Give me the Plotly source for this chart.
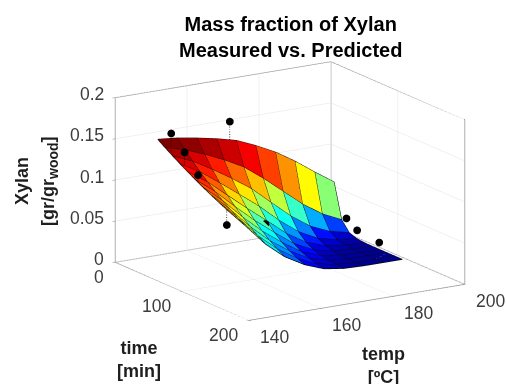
import plotly.graph_objects as go

temp = [150.0, 155.4, 160.9, 166.3, 171.8, 177.2, 182.7, 188.1, 193.6, 199.0]
time = [10.0, 21.3, 32.7, 44.0, 55.3, 66.7, 78.0, 89.3, 100.7, 112.0]
# xylan[i][j]: i = temp index, j = time index
xylan = [
    [.1457,.1392,.1331,.1272,.1216,.1162,.1110,.1061,.1014,.0969],
    [.1433,.1328,.1231,.1141,.1058,.0980,.0909,.0842,.0781,.0724],
    [.1392,.1233,.1091,.0966,.0856,.0758,.0671,.0594,.0526,.0466],
    [.1345,.1126,.0942,.0789,.0660,.0553,.0463,.0387,.0324,.0270],
    [.1284,.0999,.0777,.0605,.0470,.0366,.0285,.0222,.0172,.0134],
    [.1183,.0823,.0572,.0398,.0277,.0193,.0134,.0093,.0065,.0045],
    [.1063,.0626,.0368,.0217,.0128,.0075,.0044,.0026,.0015,.0009],
    [.0914,.0432,.0204,.0096,.0045,.0021,.0010,.0005,.0002,.0001],
    [.0741,.0273,.0100,.0037,.0014,.0005,.0002,.0001,.0000,.0000],
    [.0581,.0162,.0045,.0012,.0003,.0001,.0000,.0000,.0000,.0000],
]
meas_temp = [150, 150, 150, 170, 150, 200, 200, 200, 170.5]
meas_time = [30, 50, 70, 10, 113, 23, 39, 72, 60.6]
meas_xylan = [.1599, .144, .1233, .1527, .078, .0178, .009, .0058, .0458]
pred_xylan = [.137, .128, .116, .128, .0969, .014, .007, .002, .0458]

time_range = [0, 200]
temp_range = [140, 200]
xylan_range = [0, 0.2]
time_ticks = [0, 100, 200]
temp_ticks = [140, 160, 180, 200]
xylan_ticks = [0, 0.05, 0.1, 0.15, 0.2]
xylan_labels = ["0", "0.05", "0.1", "0.15", "0.2"]

jet = [[0, "rgb(0,0,143)"], [.125, "rgb(0,0,255)"], [.375, "rgb(0,255,255)"],
       [.625, "rgb(255,255,0)"], [.875, "rgb(255,0,0)"], [1, "rgb(128,0,0)"]]

ni, nj = len(temp), len(time)
vx, vy, vz = [], [], []
for a in range(ni):
    for b in range(nj):
        vx.append(time[b]); vy.append(temp[a]); vz.append(xylan[a][b])
ti, tj, tk, cell = [], [], [], []
for a in range(ni - 1):
    for b in range(nj - 1):
        p = a * nj + b
        q = p + 1
        r = p + nj
        s = r + 1
        ti += [p, q]; tj += [q, s]; tk += [r, r]
        cell += [xylan[a][b], xylan[a][b]]

fig = go.Figure()
fig.add_trace(go.Mesh3d(x=vx, y=vy, z=vz, i=ti, j=tj, k=tk, intensity=cell,
                        intensitymode="cell", colorscale=jet, cmin=0, cmax=max(map(max, xylan)),
                        showscale=False, flatshading=True, hoverinfo="skip",
                        lighting=dict(ambient=1, diffuse=0, specular=0, fresnel=0, roughness=1)))
ex, ey, ez = [], [], []
for a in range(ni):
    for b in range(nj):
        ex.append(time[b]); ey.append(temp[a]); ez.append(xylan[a][b])
    ex.append(None); ey.append(None); ez.append(None)
for b in range(nj):
    for a in range(ni):
        ex.append(time[b]); ey.append(temp[a]); ez.append(xylan[a][b])
    ex.append(None); ey.append(None); ez.append(None)
fig.add_trace(go.Scatter3d(x=ex, y=ey, z=ez, mode="lines", line=dict(color="rgb(10,10,10)", width=1.6), hoverinfo="skip"))

# stems
sx, sy, sz = [], [], []
for t, T, m, p in zip(meas_time, meas_temp, meas_xylan, pred_xylan):
    sx += [t, t, None]; sy += [T, T, None]; sz += [m, p, None]
fig.add_trace(go.Scatter3d(x=sx, y=sy, z=sz, mode="lines", line=dict(color="black", width=1.5, dash="dash"), hoverinfo="skip"))
fig.add_trace(go.Scatter3d(x=meas_time, y=meas_temp, z=meas_xylan, mode="markers",
                           marker=dict(color="black", size=4.5), hoverinfo="skip"))

# box
t0, t1 = time_range
T0, T1 = temp_range
z0, z1 = xylan_range
bx = [t0, t1, t1, t0, t0, None, t0, t0, None, t0, t0, None, t1, t1, None, t0, t0, t1]
by = [T0, T0, T1, T1, T0, None, T0, T0, None, T1, T1, None, T1, T1, None, T0, T1, T1]
bz = [z0, z0, z0, z0, z0, None, z0, z1, None, z0, z1, None, z0, z1, None, z1, z1, z1]
fig.add_trace(go.Scatter3d(x=bx, y=by, z=bz, mode="lines", line=dict(color="rgb(135,135,135)", width=1.5), hoverinfo="skip"))

tick_font = dict(family="Liberation Sans", size=17.5, color="rgb(60,60,60)")
labels = []
for v, txt in zip(xylan_ticks, xylan_labels):
    labels.append(dict(x=t0, y=T0, z=v, text=txt, xanchor="right", yanchor="middle", xshift=-9, yshift=3.5))
for v in time_ticks:
    labels.append(dict(x=v, y=T0, z=z0, text=str(v), xanchor="right", yanchor="middle", xshift=-9, yshift=-14.5))
for v in temp_ticks:
    labels.append(dict(x=t1, y=v, z=z0, text=str(v), xanchor="center", yanchor="middle", xshift=26, yshift=-16.5))
for l in labels:
    l.update(showarrow=False, font=tick_font)

ax = dict(showbackground=False, showspikes=False, gridcolor="rgb(228,228,228)", gridwidth=1,
          zeroline=False, showline=False, ticks="outside", ticklen=3, tickcolor="rgb(135,135,135)",
          showticklabels=False, title=dict(text=""))
bold = dict(family="Liberation Sans", size=18, color="rgb(30,30,30)")
fig.update_layout(
    width=506, height=384, margin=dict(l=0, r=0, t=0, b=0), showlegend=False,
    paper_bgcolor="white",
    scene=dict(
        domain=dict(x=[0.146, 1], y=[0.005, 1]),
        xaxis=dict(ax, range=time_range, tickvals=time_ticks),
        yaxis=dict(ax, range=temp_range, tickvals=temp_ticks),
        zaxis=dict(ax, range=xylan_range, tickvals=xylan_ticks, ticktext=xylan_labels),
        aspectmode="manual", aspectratio=dict(x=1.33, y=1.33, z=.895),
        camera=dict(projection=dict(type="orthographic"), eye=dict(x=1.473, y=-.914, z=.484),
                    center=dict(x=0, y=0, z=0), up=dict(x=0, y=0, z=1)),
        annotations=labels,
    ),
    annotations=[
        dict(text="<b>Mass fraction of Xylan<br>Measured vs. Predicted</b>", x=290/506, y=1-37/384, xref="paper", yref="paper",
             xanchor="center", yanchor="middle", showarrow=False, font=dict(family="Liberation Sans", size=20, color="black")),
        dict(text="<b>Xylan</b>", x=22/506, y=1-181/384, xref="paper", yref="paper",
             xanchor="center", yanchor="middle", showarrow=False, textangle=-90, font=bold),
        dict(text='<b>[gr/gr<sub><span style="font-size:14px">wood</span></sub>]</b>', x=49/506, y=1-181/384, xref="paper", yref="paper",
             xanchor="center", yanchor="middle", showarrow=False, textangle=-90, font=bold),
        dict(text="<b>time<br>[min]</b>", x=139/506, y=1-359/384, xref="paper", yref="paper",
             xanchor="center", yanchor="middle", showarrow=False, font=bold),
        dict(text="<b>temp<br>[ºC]</b>", x=383/506, y=1-365/384, xref="paper", yref="paper",
             xanchor="center", yanchor="middle", showarrow=False, font=bold),
    ],
)
fig.write_html("out.html", config=dict(displayModeBar=False), post_script="document.body.style.margin='0';")
